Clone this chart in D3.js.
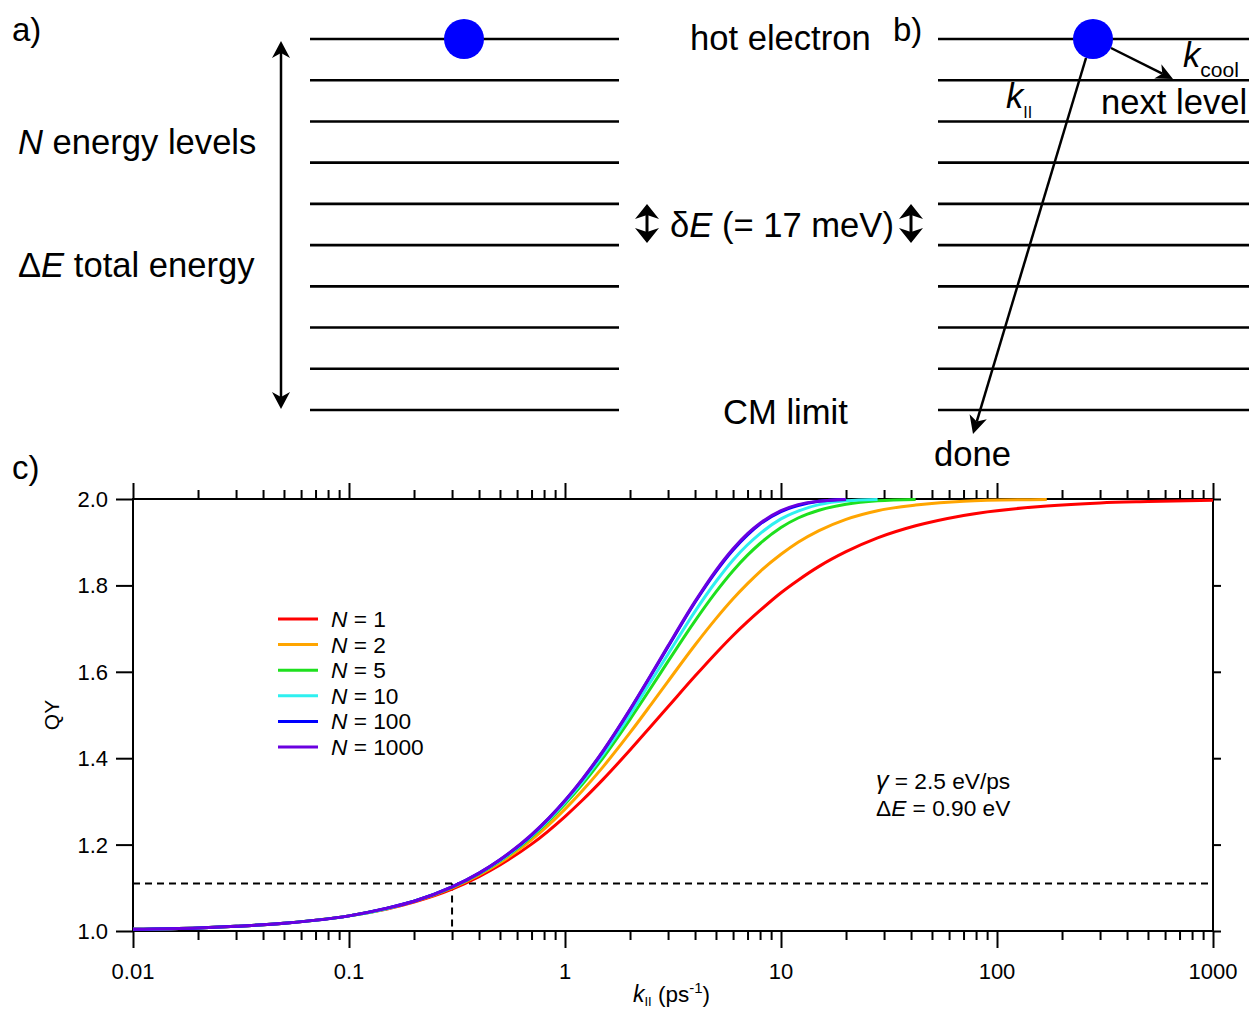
<!DOCTYPE html>
<html><head><meta charset="utf-8">
<script src="https://cdn.jsdelivr.net/npm/d3@7"></script>
<style>
html,body{margin:0;padding:0;background:#fff;}
svg text{font-family:Arial,"Liberation Sans",Helvetica,sans-serif;}
</style></head>
<body><svg id="c" width="1249" height="1012"></svg>
<script>
// ---------- data ----------
const kGrid = [0.01,0.02,0.03,0.05,0.1,0.15,0.2,0.3,0.4,0.5,0.7,1,1.2,1.5,2,2.5,3,4,5,6,7,8,10,12,15,20,28,42,70,170,300,500,1000];
const seriesNames = ["N = 1","N = 2","N = 5","N = 10","N = 100","N = 1000"];
const seriesColors = ["#ff0000","#ffa500","#1ee01e","#2ef0f0","#0000ff","#6a00e0"];
const qyN1 = [1.004,1.007,1.011,1.018,1.035,1.051,1.067,1.097,1.126,1.153,1.201,1.265,1.302,1.351,1.419,1.474,1.519,1.590,1.643,1.684,1.716,1.742,1.783,1.812,1.844,1.878,1.910,1.938,1.962,1.984,1.991,1.994,1.997];
const qyN2 = [1.004,1.007,1.011,1.018,1.035,1.052,1.068,1.100,1.130,1.158,1.211,1.282,1.324,1.380,1.459,1.524,1.578,1.662,1.723,1.769,1.804,1.832,1.872,1.900,1.927,1.953,1.973,1.986,1.995,1.999];
const qyN5 = [1.004,1.007,1.011,1.018,1.035,1.052,1.069,1.101,1.132,1.162,1.218,1.294,1.339,1.401,1.490,1.563,1.624,1.718,1.785,1.834,1.870,1.897,1.934,1.956,1.974,1.988,1.996,1.999];
const qyN10 = [1.004,1.007,1.011,1.018,1.035,1.052,1.069,1.102,1.133,1.163,1.220,1.298,1.345,1.409,1.501,1.578,1.641,1.740,1.809,1.859,1.894,1.920,1.954,1.972,1.987,1.996,1.999];
const qyN100 = [1.004,1.007,1.011,1.018,1.035,1.053,1.069,1.102,1.134,1.165,1.222,1.302,1.350,1.416,1.512,1.592,1.658,1.761,1.832,1.882,1.917,1.942,1.971,1.985,1.995,1.999];
const qyN1000 = [1.004,1.007,1.011,1.018,1.035,1.053,1.069,1.102,1.134,1.165,1.223,1.302,1.351,1.417,1.513,1.593,1.660,1.763,1.835,1.885,1.920,1.944,1.973,1.987,1.995,1.999];
const seriesValues = [qyN1,qyN2,qyN5,qyN10,qyN100,qyN1000];
const xTickValues = [0.01,0.1,1,10,100,1000];
const xTickLabels = ["0.01","0.1","1","10","100","1000"];
const yTickValues = [1.0,1.2,1.4,1.6,1.8,2.0];
const yTickLabels = ["1.0","1.2","1.4","1.6","1.8","2.0"];
const thresholdQY = 1.11;
const thresholdK = 0.3;
const levelCount = 10;

// ---------- setup ----------
const svg = d3.select("#c");

function arrowHead(g, tx, ty, angle, L, W, notch) {
  const dx = Math.cos(angle), dy = Math.sin(angle);
  const px = -dy, py = dx;
  const bx = tx - L*dx, by = ty - L*dy;
  const nx = tx - (L - notch)*dx, ny = ty - (L - notch)*dy;
  const p = d3.path();
  p.moveTo(tx, ty);
  p.lineTo(bx + W/2*px, by + W/2*py);
  p.lineTo(nx, ny);
  p.lineTo(bx - W/2*px, by - W/2*py);
  p.closePath();
  g.append("path").attr("d", p.toString()).attr("fill", "#000");
}
function arrow(g, x1, y1, x2, y2, L, W, notch, sw) {
  const a = Math.atan2(y2-y1, x2-x1);
  g.append("line").attr("x1",x1).attr("y1",y1)
    .attr("x2", x2 - (L-notch)*Math.cos(a)).attr("y2", y2 - (L-notch)*Math.sin(a))
    .attr("stroke","#000").attr("stroke-width",sw);
  arrowHead(g, x2, y2, a, L, W, notch);
}
function dblArrow(g, x, y1, y2, L, W, notch, sw) {
  g.append("line").attr("x1",x).attr("x2",x).attr("y1",y1+L-notch).attr("y2",y2-L+notch)
    .attr("stroke","#000").attr("stroke-width",sw);
  arrowHead(g, x, y1, -Math.PI/2, L, W, notch);
  arrowHead(g, x, y2, Math.PI/2, L, W, notch);
}
function txt(g, x, y, parts, size, anchor) {
  const t = g.append("text").attr("x",x).attr("y",y).attr("font-size",size)
    .attr("text-anchor",anchor||"start").attr("fill","#000");
  parts.forEach(p => {
    const s = t.append("tspan").text(p.t);
    if (p.i) s.attr("font-style","italic");
    if (p.fs) s.attr("font-size",p.fs);
    if (p.dy) s.attr("dy",p.dy);
  });
  return t;
}

// ---------- top schematic ----------
const topG = svg.append("g");
const levelY = d3.scaleLinear().domain([0, levelCount-1]).range([39, 410]);
const levels = d3.range(levelCount);
[[310,619],[938,1249]].forEach(([x0,x1]) => {
  topG.selectAll(null).data(levels).enter().append("line")
    .attr("x1",x0).attr("x2",x1)
    .attr("y1",d=>levelY(d)).attr("y2",d=>levelY(d))
    .attr("stroke","#000").attr("stroke-width",2.6);
});
topG.append("circle").attr("cx",464).attr("cy",39).attr("r",20).attr("fill","#0000ff");
topG.append("circle").attr("cx",1093).attr("cy",39).attr("r",20).attr("fill","#0000ff");

dblArrow(topG, 281, 41, 409, 17, 18, 5, 2.5);
dblArrow(topG, 647, 204, 243, 15, 24, 4, 3);
dblArrow(topG, 911, 204, 243, 15, 24, 4, 3);

arrow(topG, 1111, 48, 1173, 79, 17, 16, 5, 2.5);
arrow(topG, 1086, 58, 973, 434, 18, 18, 5, 2.5);

const TS = 34.6;
txt(topG, 12, 41, [{t:"a)"}], 33);
txt(topG, 893, 41, [{t:"b)"}], 33);
txt(topG, 18, 154, [{t:"N",i:1},{t:" energy levels"}], TS);
txt(topG, 18, 277, [{t:"Δ"},{t:"E",i:1},{t:" total energy"}], TS);
txt(topG, 690, 50, [{t:"hot electron"}], TS);
txt(topG, 670, 237, [{t:"δ"},{t:"E",i:1},{t:" (= 17 meV)"}], TS);
txt(topG, 723, 424, [{t:"CM limit"}], TS);
txt(topG, 934, 466, [{t:"done"}], TS);
txt(topG, 1101, 114, [{t:"next level"}], TS);
txt(topG, 1183, 67, [{t:"k",i:1},{t:"cool",fs:21,dy:10}], TS);
txt(topG, 1006, 108, [{t:"k",i:1},{t:"II",fs:16,dy:10}], TS);

// ---------- chart ----------
const x = d3.scaleLog().domain([0.01, 1000]).range([133, 1213]);
const y = d3.scaleLinear().domain([1.0, 2.0]).range([931, 499]);
const ch = svg.append("g");
const isMajor = d => xTickValues.some(v => Math.abs(Math.log10(v/d)) < 1e-6);

const TICKFONT = 22;
// bottom axis
const xb = ch.append("g").attr("transform",`translate(0,${y(1)})`)
  .call(d3.axisBottom(x).tickValues(x.ticks()).tickSize(9).tickFormat(""));
xb.select(".domain").remove();
xb.selectAll(".tick line").attr("stroke","#000").attr("stroke-width",2)
  .attr("y2", d => isMajor(d) ? 17 : 9);
ch.selectAll(null).data(xTickValues).enter().append("text")
  .attr("x", d=>x(d)).attr("y", 979).attr("text-anchor","middle")
  .attr("font-size",TICKFONT).text((d,i)=>xTickLabels[i]);
// top axis
const xt = ch.append("g").attr("transform",`translate(0,${y(2)})`)
  .call(d3.axisTop(x).tickValues(x.ticks()).tickSize(9).tickFormat(""));
xt.select(".domain").remove();
xt.selectAll(".tick line").attr("stroke","#000").attr("stroke-width",2)
  .attr("y2", d => isMajor(d) ? -16 : -9);
// left axis
const yl = ch.append("g").attr("transform",`translate(${x(0.01)},0)`)
  .call(d3.axisLeft(y).tickValues(yTickValues).tickSize(17).tickFormat(""));
yl.select(".domain").remove();
yl.selectAll(".tick line").attr("stroke","#000").attr("stroke-width",2);
ch.selectAll(null).data(yTickValues).enter().append("text")
  .attr("x",108).attr("y", d=>y(d)+8).attr("text-anchor","end")
  .attr("font-size",TICKFONT).text((d,i)=>yTickLabels[i]);
// right axis
const yr = ch.append("g").attr("transform",`translate(${x(1000)},0)`)
  .call(d3.axisRight(y).tickValues(yTickValues).tickSize(8).tickFormat(""));
yr.select(".domain").remove();
yr.selectAll(".tick line").attr("stroke","#000").attr("stroke-width",2);
// frame
ch.append("rect").attr("x",x(0.01)).attr("y",y(2)).attr("width",x(1000)-x(0.01)).attr("height",y(1)-y(2))
  .attr("fill","none").attr("stroke","#000").attr("stroke-width",2);

// dashed guides
ch.append("line").attr("x1",x(0.01)).attr("x2",x(1000)).attr("y1",y(thresholdQY)).attr("y2",y(thresholdQY))
  .attr("stroke","#000").attr("stroke-width",2).attr("stroke-dasharray","7,5");
ch.append("line").attr("x1",x(thresholdK)).attr("x2",x(thresholdK)).attr("y1",y(thresholdQY)).attr("y2",y(1))
  .attr("stroke","#000").attr("stroke-width",2).attr("stroke-dasharray","7,5");

// curves
const line = d3.line().x(d=>x(d[0])).y(d=>y(d[1])).curve(d3.curveMonotoneX);
seriesValues.forEach((vals,i) => {
  const pts = vals.map((v,j)=>[kGrid[j], v]);
  ch.append("path").attr("d", line(pts)).attr("fill","none")
    .attr("stroke", seriesColors[i]).attr("stroke-width",3).attr("stroke-linejoin","round");
});

// legend
const lg = ch.append("g");
seriesNames.forEach((n,i) => {
  const yy = 619 + i*25.6;
  lg.append("line").attr("x1",278).attr("x2",318).attr("y1",yy).attr("y2",yy)
    .attr("stroke",seriesColors[i]).attr("stroke-width",3);
  txt(lg, 331, yy+8, [{t:"N",i:1},{t:n.slice(1)}], 22.7);
});

// annotation
txt(ch, 876, 789, [{t:"γ",i:1,fs:25},{t:" = 2.5 eV/ps"}], 22.7);
txt(ch, 876, 816, [{t:"Δ"},{t:"E",i:1},{t:" = 0.90 eV"}], 22.7);

// axis titles
txt(ch, 0, 0, [{t:"QY"}], 21, "middle").attr("transform","translate(59,715) rotate(-90)");
txt(ch, 633, 1002, [{t:"k",i:1,fs:23},{t:"II",fs:13,dy:4},{t:" (ps",dy:-4},{t:"-1",fs:15,dy:-9},{t:")",dy:9}], 22.5);
txt(svg, 12, 479, [{t:"c)"}], 33);
</script></body></html>
